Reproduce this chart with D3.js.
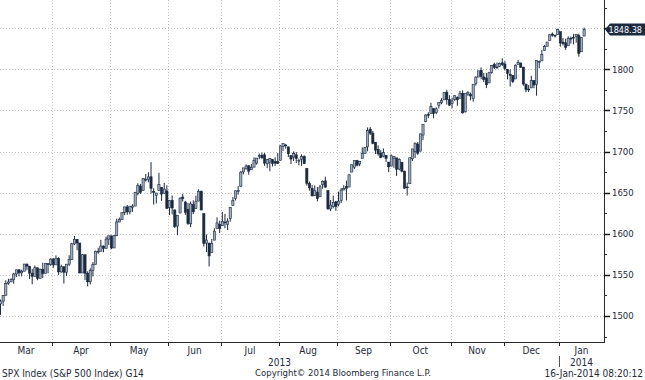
<!DOCTYPE html>
<html>
<head>
<meta charset="utf-8">
<script src="https://cdn.jsdelivr.net/npm/d3@7"></script>
<style>
  body { margin: 0; background: #fff; }
  text { font-family: "DejaVu Sans Condensed", "DejaVu Sans", sans-serif; fill: #1e2a3a; }
</style>
</head>
<body>
<div id="chart"></div>
<script>
const FRAME_WIDTH = 645;
const FRAME_HEIGHT = 380;
const PLOT = {left: 0, right: 604, top: 0, bottom: 342};

// trading days by month, Mar-2013 .. Jan-2014
const MONTHS = ["Mar", "Apr", "May", "Jun", "Jul", "Aug", "Sep", "Oct", "Nov", "Dec", "Jan"];
const DAYS_PER_MONTH = [20, 22, 22, 20, 22, 22, 20, 23, 20, 21, 10];
const Y_TICKS = [1500, 1550, 1600, 1650, 1700, 1750, 1800, 1850];
const Y_MINOR = [1475, 1525, 1575, 1625, 1675, 1725, 1775, 1825, 1875];
const LAST_PRICE = 1848.38;

const OPENS = [
  // Mar
  1514.7, 1518.2, 1525.2, 1539.79, 1541.46, 1544.26, 1551.15, 1556.22, 1552.48, 1554.52,
  1563.21, 1560.7, 1552.1, 1548.34, 1558.71, 1545.9, 1556.89, 1551.69, 1563.75, 1562.86,
  // Apr
  1569.18, 1562.17, 1570.25, 1553.69, 1559.98, 1553.26, 1563.11, 1568.61, 1587.73, 1593.3,
  1588.84, 1552.36, 1574.57, 1552.03, 1541.61, 1555.25, 1562.5, 1578.78, 1578.78, 1585.16,
  1582.34, 1593.58,
  // May
  1597.55, 1582.77, 1597.6, 1614.4, 1617.55, 1625.95, 1632.69, 1626.69, 1632.1, 1633.75,
  1649.13, 1658.07, 1652.45, 1665.71, 1666.2, 1669.39, 1651.62, 1646.67, 1652.63, 1656.57,
  1649.14, 1652.13,
  // Jun
  1631.71, 1640.73, 1629.05, 1609.29, 1625.27, 1644.67, 1638.64, 1629.94, 1612.15, 1635.52,
  1630.64, 1639.77, 1651.83, 1624.62, 1588.62, 1588.77, 1577.52, 1592.27, 1606.44, 1611.12,
  // Jul
  1609.78, 1614.29, 1611.48, 1618.65, 1634.2, 1642.89, 1651.56, 1657.41, 1675.26, 1679.59,
  1682.7, 1677.91, 1681.05, 1686.15, 1694.41, 1695.53, 1696.06, 1685.21, 1687.31, 1690.32,
  1687.92, 1687.76,
  // Aug
  1689.42, 1706.1, 1708.01, 1705.79, 1695.3, 1693.35, 1696.1, 1688.37, 1690.65, 1693.88,
  1679.61, 1661.22, 1655.25, 1646.81, 1650.66, 1645.03, 1659.92, 1664.29, 1652.54, 1630.25,
  1633.5, 1638.89,
  // Sep
  1635.95, 1640.72, 1653.28, 1657.44, 1656.85, 1675.11, 1681.04, 1689.21, 1685.04, 1691.7,
  1697.73, 1705.74, 1727.34, 1722.44, 1711.44, 1702.6, 1698.02, 1694.05, 1695.52, 1687.26,
  // Oct
  1682.41, 1691.9, 1692.35, 1678.79, 1687.15, 1676.22, 1656.99, 1660.88, 1691.09, 1699.86,
  1709.17, 1700.49, 1720.17, 1736.72, 1745.2, 1746.48, 1752.27, 1747.48, 1756.01, 1759.42,
  1762.93, 1772.27, 1763.24,
  // Nov
  1758.7, 1763.4, 1765.67, 1765.0, 1770.74, 1748.37, 1769.96, 1769.51, 1764.37, 1782.75,
  1790.66, 1798.82, 1790.79, 1789.59, 1783.52, 1796.19, 1806.33, 1802.87, 1803.48, 1808.01,
  // Dec
  1806.55, 1800.1, 1794.15, 1792.82, 1788.36, 1806.21, 1807.6, 1802.76, 1781.71, 1776.01,
  1777.48, 1786.47, 1781.46, 1809.0, 1810.39, 1822.92, 1828.02, 1834.96, 1842.97, 1841.47,
  1842.61,
  // Jan
  1845.86, 1833.21, 1832.31, 1828.71, 1837.9, 1839.0, 1840.06, 1841.26, 1821.36, 1840.52
];

const HIGHS = [
  // Mar
  1519.99, 1525.34, 1543.47, 1545.25, 1545.78, 1552.48, 1556.27, 1556.77, 1556.39, 1563.32,
  1563.62, 1560.7, 1557.25, 1561.56, 1558.71, 1557.74, 1564.91, 1563.95, 1564.07, 1570.28,
  // Apr
  1570.57, 1573.66, 1571.47, 1562.6, 1559.98, 1563.07, 1573.89, 1589.07, 1597.35, 1593.3,
  1588.84, 1575.35, 1574.57, 1554.38, 1558.08, 1565.55, 1579.58, 1583.0, 1592.64, 1585.78,
  1596.65, 1597.57,
  // May
  1597.55, 1598.6, 1618.46, 1619.77, 1626.03, 1632.78, 1635.01, 1633.7, 1636.0, 1651.1,
  1661.49, 1660.51, 1667.47, 1672.84, 1674.93, 1687.18, 1655.5, 1649.78, 1674.21, 1656.57,
  1661.91, 1658.99,
  // Jun
  1640.42, 1646.53, 1629.31, 1622.56, 1644.4, 1648.69, 1640.13, 1637.71, 1639.25, 1640.8,
  1646.5, 1654.19, 1652.45, 1624.62, 1599.19, 1588.77, 1593.79, 1606.83, 1620.07, 1615.94,
  // Jul
  1626.61, 1624.26, 1618.97, 1632.07, 1644.68, 1652.52, 1657.92, 1676.63, 1680.19, 1684.51,
  1683.73, 1684.75, 1693.12, 1692.09, 1697.61, 1698.78, 1698.38, 1690.94, 1691.85, 1690.92,
  1693.19, 1698.43,
  // Aug
  1707.85, 1709.67, 1709.24, 1705.79, 1695.3, 1700.18, 1699.42, 1691.49, 1696.81, 1695.52,
  1679.61, 1663.6, 1659.18, 1658.92, 1656.99, 1659.55, 1664.85, 1669.51, 1652.54, 1641.18,
  1646.41, 1640.08,
  // Sep
  1651.35, 1655.72, 1659.17, 1664.83, 1672.4, 1684.09, 1689.13, 1689.97, 1688.73, 1704.95,
  1705.52, 1729.44, 1729.86, 1725.23, 1711.44, 1707.63, 1701.71, 1703.85, 1695.52, 1687.26,
  // Oct
  1696.55, 1693.87, 1692.35, 1691.94, 1687.15, 1676.79, 1662.47, 1692.56, 1703.44, 1711.03,
  1711.57, 1721.76, 1733.45, 1745.31, 1747.79, 1759.33, 1752.27, 1753.94, 1759.82, 1764.99,
  1772.09, 1775.22, 1768.53,
  // Nov
  1765.67, 1768.78, 1767.03, 1773.74, 1774.54, 1770.78, 1773.44, 1771.78, 1782.0, 1791.53,
  1798.22, 1802.33, 1795.51, 1795.73, 1797.16, 1804.84, 1808.1, 1808.42, 1808.27, 1813.55,
  // Dec
  1810.02, 1800.1, 1799.8, 1792.82, 1806.04, 1811.52, 1808.52, 1802.97, 1782.99, 1780.88,
  1792.22, 1786.77, 1811.08, 1810.88, 1823.75, 1829.75, 1833.32, 1842.84, 1844.89, 1842.47,
  1849.44,
  // Jan
  1845.86, 1838.24, 1837.16, 1840.1, 1840.02, 1843.23, 1843.15, 1843.45, 1839.26, 1850.84
];

const LOWS = [
  // Mar
  1501.48, 1512.29, 1525.2, 1538.11, 1541.46, 1539.29, 1547.36, 1548.24, 1548.25, 1554.52,
  1555.74, 1545.13, 1538.57, 1548.34, 1543.55, 1545.9, 1546.22, 1551.69, 1551.9, 1561.08,
  // Apr
  1558.47, 1562.17, 1549.8, 1552.52, 1539.5, 1548.63, 1560.92, 1568.61, 1586.17, 1579.97,
  1552.28, 1552.36, 1543.69, 1536.03, 1538.38, 1548.19, 1562.5, 1575.8, 1578.78, 1577.56,
  1582.34, 1586.5,
  // May
  1581.28, 1582.77, 1597.6, 1614.21, 1616.64, 1622.7, 1623.09, 1623.71, 1626.74, 1633.75,
  1646.68, 1648.6, 1652.45, 1663.52, 1662.67, 1648.86, 1635.53, 1636.88, 1652.63, 1640.05,
  1648.61, 1630.74,
  // Jun
  1622.72, 1623.62, 1607.09, 1598.23, 1625.27, 1639.26, 1622.92, 1610.92, 1608.07, 1623.96,
  1630.34, 1639.77, 1628.91, 1584.32, 1577.7, 1560.33, 1577.09, 1592.27, 1606.44, 1601.06,
  // Jul
  1609.78, 1606.77, 1604.57, 1614.71, 1634.2, 1640.6, 1647.66, 1657.41, 1672.33, 1677.89,
  1671.84, 1677.91, 1681.05, 1684.08, 1690.67, 1691.13, 1682.57, 1680.07, 1676.03, 1681.86,
  1682.42, 1684.94,
  // Aug
  1689.42, 1700.68, 1703.55, 1693.29, 1684.91, 1688.38, 1686.02, 1683.35, 1682.62, 1684.83,
  1658.59, 1652.61, 1645.84, 1646.08, 1639.43, 1645.03, 1654.81, 1656.02, 1629.05, 1627.47,
  1630.88, 1628.05,
  // Sep
  1633.41, 1637.41, 1653.07, 1640.62, 1656.85, 1675.11, 1678.7, 1681.96, 1682.22, 1691.7,
  1697.73, 1700.35, 1720.2, 1708.89, 1697.1, 1694.9, 1691.88, 1693.11, 1687.11, 1674.99,
  // Oct
  1682.07, 1680.34, 1670.36, 1677.33, 1674.7, 1655.03, 1646.47, 1660.88, 1688.52, 1692.13,
  1695.93, 1700.49, 1714.12, 1735.74, 1740.67, 1746.48, 1740.5, 1745.5, 1752.45, 1757.67,
  1762.93, 1757.24, 1755.72,
  // Nov
  1752.7, 1761.56, 1755.76, 1764.4, 1746.2, 1747.63, 1767.85, 1762.29, 1760.64, 1780.22,
  1790.66, 1788.0, 1784.72, 1777.23, 1783.52, 1794.7, 1800.58, 1800.77, 1802.77, 1803.98,
  // Dec
  1798.6, 1787.85, 1779.09, 1783.38, 1788.36, 1806.21, 1801.75, 1780.09, 1772.28, 1772.45,
  1777.48, 1777.05, 1767.99, 1801.35, 1810.25, 1822.92, 1828.02, 1834.96, 1839.81, 1838.77,
  1842.41,
  // Jan
  1827.74, 1829.13, 1823.73, 1828.71, 1831.4, 1830.38, 1832.43, 1815.52, 1821.36, 1840.52
];

const CLOSES = [
  // Mar
  1518.2, 1525.2, 1539.79, 1541.46, 1544.26, 1551.18, 1556.22, 1552.48, 1554.52, 1563.23,
  1560.7, 1552.1, 1548.34, 1558.71, 1545.8, 1556.89, 1551.69, 1563.77, 1562.85, 1569.19,
  // Apr
  1562.17, 1570.25, 1553.69, 1559.98, 1553.28, 1563.07, 1568.61, 1587.73, 1593.37, 1588.85,
  1552.36, 1574.57, 1552.01, 1541.61, 1555.25, 1562.5, 1578.78, 1578.79, 1585.16, 1582.24,
  1593.61, 1597.57,
  // May
  1582.7, 1597.59, 1614.42, 1617.5, 1625.96, 1632.69, 1626.67, 1633.7, 1633.77, 1650.34,
  1658.78, 1650.47, 1667.47, 1666.29, 1669.16, 1655.35, 1650.51, 1649.6, 1660.06, 1648.36,
  1654.41, 1630.74,
  // Jun
  1640.42, 1631.38, 1608.9, 1622.56, 1643.38, 1642.81, 1626.13, 1612.52, 1636.36, 1626.73,
  1639.04, 1651.81, 1628.93, 1588.19, 1592.43, 1573.09, 1588.03, 1603.26, 1613.2, 1606.28,
  // Jul
  1614.96, 1614.08, 1615.41, 1631.89, 1640.46, 1652.32, 1652.62, 1675.02, 1680.19, 1682.5,
  1676.26, 1680.91, 1689.37, 1692.09, 1695.53, 1692.39, 1685.94, 1690.25, 1691.65, 1685.33,
  1685.96, 1685.73,
  // Aug
  1706.87, 1709.67, 1707.14, 1697.37, 1690.91, 1697.48, 1691.42, 1689.47, 1694.16, 1685.39,
  1661.32, 1655.83, 1646.06, 1652.35, 1642.8, 1656.96, 1663.5, 1656.78, 1630.48, 1634.96,
  1638.17, 1632.97,
  // Sep
  1639.77, 1653.08, 1655.08, 1655.17, 1671.71, 1683.99, 1689.13, 1683.42, 1687.99, 1697.6,
  1704.76, 1725.52, 1722.34, 1709.91, 1701.84, 1697.42, 1692.77, 1698.67, 1691.75, 1681.55,
  // Oct
  1695.0, 1693.87, 1678.66, 1690.5, 1676.12, 1655.45, 1656.4, 1692.56, 1703.2, 1710.14,
  1698.06, 1721.54, 1733.15, 1744.5, 1744.66, 1754.67, 1746.38, 1752.07, 1759.77, 1762.11,
  1771.95, 1763.31, 1756.54,
  // Nov
  1761.64, 1767.93, 1762.97, 1770.49, 1747.15, 1770.61, 1771.89, 1767.69, 1782.0, 1790.62,
  1798.18, 1791.53, 1787.87, 1781.37, 1795.85, 1804.76, 1802.48, 1802.75, 1807.23, 1805.81,
  // Dec
  1800.9, 1795.15, 1792.81, 1785.03, 1805.09, 1808.37, 1802.62, 1782.22, 1775.5, 1775.32,
  1786.54, 1781.0, 1810.65, 1809.6, 1818.32, 1827.99, 1833.32, 1842.02, 1841.4, 1841.07,
  1848.36,
  // Jan
  1831.98, 1831.37, 1826.77, 1837.88, 1837.49, 1838.13, 1842.37, 1819.2, 1838.88, 1848.38
];

const UP_FILL = "#9eadc0";
const DARK = "#1c2a40";

const N = CLOSES.length;

const X_SCALE = d3.scaleLinear()
    .domain([0, N - 1])
    .range([0.5, 584.1]);

const Y_SCALE = d3.scaleLinear()
    .domain([1468.4, 1884.4])
    .range([PLOT.bottom, PLOT.top]);

const svg = d3.select("#chart")
  .append("svg")
    .attr("width", FRAME_WIDTH)
    .attr("height", FRAME_HEIGHT);

// month boundaries (in bar index units)
let boundaries = [];
let acc = 0;
for (let i = 0; i < DAYS_PER_MONTH.length; i++) {
  boundaries.push(acc - 0.5);
  acc += DAYS_PER_MONTH[i];
}
const innerBounds = boundaries.slice(1);

// gridlines
svg.append("g")
  .selectAll("line")
  .data(Y_TICKS)
  .enter()
  .append("line")
    .attr("x1", PLOT.left)
    .attr("x2", PLOT.right)
    .attr("y1", (d) => Math.round(Y_SCALE(d)) + 0.5)
    .attr("y2", (d) => Math.round(Y_SCALE(d)) + 0.5)
    .attr("stroke", "#c4c4c4")
    .attr("stroke-dasharray", "1,2");

svg.append("g")
  .selectAll("line")
  .data(innerBounds)
  .enter()
  .append("line")
    .attr("x1", (d) => Math.round(X_SCALE(d)) + 0.5)
    .attr("x2", (d) => Math.round(X_SCALE(d)) + 0.5)
    .attr("y1", PLOT.top)
    .attr("y2", PLOT.bottom)
    .attr("stroke", "#c4c4c4")
    .attr("stroke-dasharray", "1,2");

// candles
const idx = d3.range(N);
const candles = svg.append("g");

candles.selectAll("line")
  .data(idx)
  .enter()
  .append("line")
    .attr("x1", (i) => X_SCALE(i))
    .attr("x2", (i) => X_SCALE(i))
    .attr("y1", (i) => Y_SCALE(HIGHS[i]))
    .attr("y2", (i) => Y_SCALE(LOWS[i]))
    .attr("stroke", DARK)
    .attr("stroke-width", 1);

candles.selectAll("rect")
  .data(idx)
  .enter()
  .append("rect")
    .attr("x", (i) => X_SCALE(i) - 1.1)
    .attr("width", 2.2)
    .attr("y", (i) => Y_SCALE(Math.max(OPENS[i], CLOSES[i])))
    .attr("height", (i) => Math.max(0.8, Math.abs(Y_SCALE(OPENS[i]) - Y_SCALE(CLOSES[i]))))
    .attr("fill", (i) => CLOSES[i] >= OPENS[i] ? UP_FILL : DARK)
    .attr("stroke", DARK)
    .attr("stroke-width", 0.6);

// right axis
const yAxis = svg.append("g");
yAxis.append("line")
    .attr("x1", PLOT.right + 0.5).attr("x2", PLOT.right + 0.5)
    .attr("y1", PLOT.top).attr("y2", PLOT.bottom)
    .attr("stroke", "#2a2a2a");

yAxis.selectAll(".major")
  .data(Y_TICKS)
  .enter()
  .append("line")
    .attr("x1", PLOT.right).attr("x2", PLOT.right + 6)
    .attr("y1", (d) => Math.round(Y_SCALE(d)) + 0.5)
    .attr("y2", (d) => Math.round(Y_SCALE(d)) + 0.5)
    .attr("stroke", "#1a1a1a")
    .attr("stroke-width", 1.5);

yAxis.selectAll(".minor")
  .data(Y_MINOR)
  .enter()
  .append("line")
    .attr("x1", PLOT.right).attr("x2", PLOT.right + 3)
    .attr("y1", (d) => Math.round(Y_SCALE(d)) + 0.5)
    .attr("y2", (d) => Math.round(Y_SCALE(d)) + 0.5)
    .attr("stroke", "#2a2a2a");

yAxis.selectAll("text")
  .data(Y_TICKS.filter((d) => d !== 1850))
  .enter()
  .append("text")
    .attr("x", PLOT.right + 8)
    .attr("y", (d) => Y_SCALE(d))
    .attr("dy", "0.35em")
    .attr("font-size", "9.5px")
    .text((d) => d);

// last price tag
const tagY = Y_SCALE(LAST_PRICE);
svg.append("path")
    .attr("d", "M" + (PLOT.right + 1) + "," + tagY +
               " L" + (PLOT.right + 6) + "," + (tagY - 6) +
               " L645," + (tagY - 6) + " L645," + (tagY + 6) +
               " L" + (PLOT.right + 6) + "," + (tagY + 6) + " Z")
    .attr("fill", DARK);
svg.append("text")
    .attr("x", 642)
    .attr("y", tagY)
    .attr("dy", "0.35em")
    .attr("text-anchor", "end")
    .attr("font-size", "9px")
    .style("fill", "#fff")
    .text(LAST_PRICE.toFixed(2));

// bottom axis
const xAxis = svg.append("g");
xAxis.append("line")
    .attr("x1", PLOT.left).attr("x2", PLOT.right + 1)
    .attr("y1", PLOT.bottom + 0.5).attr("y2", PLOT.bottom + 0.5)
    .attr("stroke", "#2a2a2a");

xAxis.selectAll(".tick")
  .data(innerBounds)
  .enter()
  .append("line")
    .attr("x1", (d) => Math.round(X_SCALE(d)) + 0.5)
    .attr("x2", (d) => Math.round(X_SCALE(d)) + 0.5)
    .attr("y1", PLOT.bottom)
    .attr("y2", PLOT.bottom + 4)
    .attr("stroke", "#2a2a2a");

xAxis.selectAll("text")
  .data(MONTHS)
  .enter()
  .append("text")
    .attr("x", (d, i) => {
      let a = Math.max(PLOT.left, X_SCALE(boundaries[i]));
      let b = i + 1 < boundaries.length ? X_SCALE(boundaries[i + 1]) : PLOT.right;
      return (a + b) / 2;
    })
    .attr("y", 350)
    .attr("dy", "0.35em")
    .attr("text-anchor", "middle")
    .attr("font-size", "10px")
    .text((d) => d);

// year labels
const janX = X_SCALE(boundaries[10]);
svg.append("text")
    .attr("x", (PLOT.left + janX) / 2)
    .attr("y", 362)
    .attr("dy", "0.35em")
    .attr("text-anchor", "middle")
    .attr("font-size", "10px")
    .text("2013");
svg.append("line")
    .attr("x1", Math.round(janX) + 0.5).attr("x2", Math.round(janX) + 0.5)
    .attr("y1", 356).attr("y2", 367)
    .attr("stroke", "#555");
svg.append("text")
    .attr("x", (janX + PLOT.right) / 2)
    .attr("y", 362)
    .attr("dy", "0.35em")
    .attr("text-anchor", "middle")
    .attr("font-size", "10px")
    .text("2014");

// footer
svg.append("text")
    .attr("x", 2).attr("y", 373).attr("dy", "0.35em")
    .attr("font-size", "10px")
    .text("SPX Index (S&P 500 Index) G14");
svg.append("text")
    .attr("x", 343).attr("y", 373).attr("dy", "0.35em")
    .attr("text-anchor", "middle")
    .attr("font-size", "9.5px")
    .text("Copyright\u00a9 2014 Bloomberg Finance L.P.");
svg.append("text")
    .attr("x", 643).attr("y", 373).attr("dy", "0.35em")
    .attr("text-anchor", "end")
    .attr("font-size", "10px")
    .text("16-Jan-2014 08:20:12");
</script>
</body>
</html>
